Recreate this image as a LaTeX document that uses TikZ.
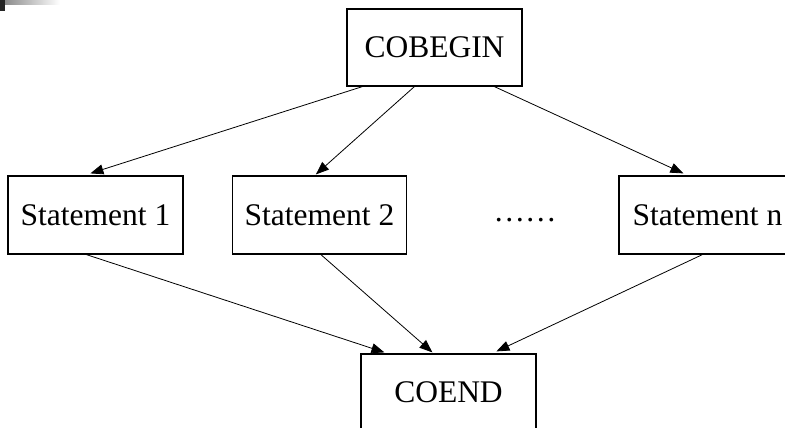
\documentclass[tikz,border=0pt]{standalone}
\usepackage{fontspec}
\setmainfont{Liberation Serif}
\usetikzlibrary{arrows.meta,calc}
\begin{document}
\begin{tikzpicture}[x=1pt,y=-1pt,
  box/.style={draw,line width=1.2pt,rectangle,inner sep=0pt,minimum width=175pt,minimum height=77pt,font=\fontsize{31.5}{36}\selectfont},
  conn/.style={line width=0.8pt,-{Triangle[length=13pt,width=10pt]}}]
\useasboundingbox (0,0) rectangle (785,428);
\clip (0,0) rectangle (785,428);
% corner artifact
\fill[black!85] (0,0) rectangle (5,11);
\shade[left color=black!45,right color=white] (5,0) rectangle (60,5);
% boxes
\node[box] (cobegin) at (434.5,47.5) {COBEGIN};
\node[box,minimum height=78pt] (s1) at (95.5,215) {Statement 1};
\node[box,minimum height=78pt,minimum width=174pt] (s2) at (319.5,215) {Statement 2};
\node[box,minimum height=78pt,minimum width=177pt] (sn) at (707.5,215) {Statement n};
\node[box] (coend) at (448.5,392.5) {COEND};
\node[font=\fontsize{31.5}{36}\selectfont,anchor=base,inner sep=0pt] (dots) at (525,221) {……};
% connectors
\draw[conn] ([xshift=16pt]cobegin.south west) -- ([xshift=83pt,yshift=2pt]s1.north west);
\draw[conn] ([xshift=68pt]cobegin.south west) -- ([xshift=84pt,yshift=1pt]s2.north west);
\draw[conn] ([xshift=148pt]cobegin.south west) -- ([xshift=65pt,yshift=2pt]sn.north west);
\draw[conn] ([xshift=79pt]s1.south west) -- ([xshift=24pt,yshift=1pt]coend.north west);
\draw[conn] ([xshift=89pt]s2.south west) -- ([xshift=72pt,yshift=1pt]coend.north west);
\draw[conn] ([xshift=84pt]sn.south west) -- ([xshift=136pt,yshift=2pt]coend.north west);
\end{tikzpicture}
\end{document}
